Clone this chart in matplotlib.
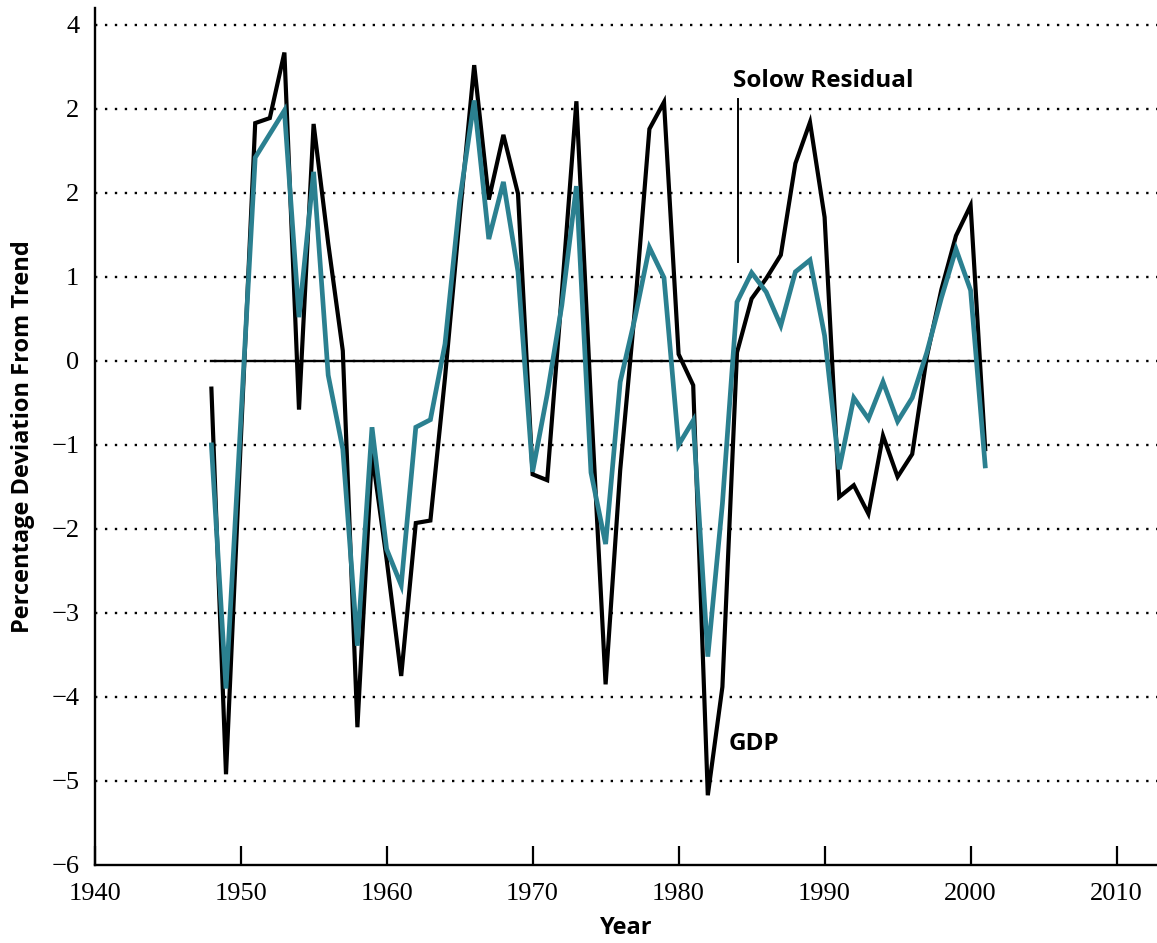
import matplotlib
matplotlib.use("Agg")
import matplotlib.pyplot as plt

years = list(range(1948, 2002))
gdp = [-0.33, -4.92, -1.0, 2.83, 2.89, 3.67, -0.58, 2.82, 1.4, 0.12,
       -4.36, -1.1, -2.36, -3.75, -1.93, -1.90, -0.2, 1.7, 3.52, 1.92,
       2.69, 1.99, -1.35, -1.42, 0.8, 3.09, -0.5, -3.85, -1.3, 0.6,
       2.76, 3.08, 0.08, -0.29, -5.17, -3.88, 0.1, 0.74, 0.98, 1.26,
       2.35, 2.84, 1.71, -1.62, -1.48, -1.82, -0.89, -1.38, -1.11, 0.05,
       0.85, 1.49, 1.85, -1.05]
solow = [-1.0, -3.9, -0.75, 2.42, 2.7, 2.98, 0.52, 2.25, -0.17, -1.05,
         -3.39, -0.79, -2.24, -2.67, -0.79, -0.70, 0.2, 1.9, 3.10, 1.45,
         2.13, 1.06, -1.32, -0.4, 0.66, 2.08, -1.33, -2.18, -0.25, 0.5,
         1.35, 0.99, -1.0, -0.71, -3.52, -1.7, 0.7, 1.05, 0.82, 0.42,
         1.06, 1.2, 0.3, -1.29, -0.44, -0.69, -0.25, -0.72, -0.44, 0.1,
         0.75, 1.33, 0.84, -1.25]

x_ticks = [1940, 1950, 1960, 1970, 1980, 1990, 2000, 2010]
y_ticks = [4, 3, 2, 1, 0, -1, -2, -3, -4, -5, -6]
y_tick_labels = ["4", "2", "2", "1", "0", "\u22121", "\u22122", "\u22123", "\u22124", "\u22125", "\u22126"]

TEAL = "#2b8090"
serif = "Liberation Serif"
sans = "Open Sans"

fig = plt.figure(figsize=(11.57, 9.43), dpi=100)
ax = fig.add_axes([94.6 / 1157, 1 - 865 / 943, 1 - 94.6 / 1157, (865 - 8) / 943])
ax.set_xlim(1940, 1940 + (1157 - 94.6) / 14.6)
ax.set_ylim(-6, 4.2)

# dotted gridlines
for yv in y_ticks[:-1]:
    ax.axhline(yv, color="black", lw=1.7, ls=(0, (1, 3.2)), zorder=1)
# zero line
ax.plot([years[0], years[-1]], [0, 0], color="black", lw=1.7, zorder=2)

ax.plot(years, gdp, color="black", lw=3.0, solid_joinstyle="miter", zorder=3)
ax.plot(years, solow, color=TEAL, lw=3.4, solid_joinstyle="miter", zorder=4)

# annotations
ax.plot([1984.1, 1984.1], [3.12, 1.18], color="black", lw=1.4, zorder=5)
ax.text(1983.75, 3.33, "Solow Residual", fontfamily=sans, fontweight="bold",
        fontsize=17.5, va="center", ha="left")
ax.text(1983.4, -4.56, "GDP", fontfamily=sans, fontweight="bold",
        fontsize=17.5, va="center", ha="left")

for s in ["top", "right"]:
    ax.spines[s].set_visible(False)
for s in ["left", "bottom"]:
    ax.spines[s].set_linewidth(1.7)

ax.set_xticks(x_ticks)
ax.set_xticklabels([str(v) for v in x_ticks], fontfamily=serif, fontsize=19)
ax.tick_params(axis="x", direction="in", length=14, width=1.6, pad=13)
ax.set_yticks(y_ticks)
ax.set_yticklabels(y_tick_labels, fontfamily=serif, fontsize=19)
ax.tick_params(axis="y", length=0, pad=11)

ax.set_xlabel("Year", fontfamily=sans, fontweight="bold", fontsize=17, labelpad=8)
ax.set_ylabel("Percentage Deviation From Trend", fontfamily=sans, fontweight="bold",
              fontsize=17, labelpad=12)

fig.savefig("out.png", dpi=100)
